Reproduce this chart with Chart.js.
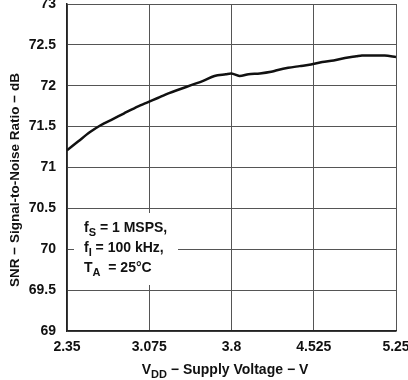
<!DOCTYPE html>
<html>
<head>
<meta charset="utf-8">
<script src="https://cdn.jsdelivr.net/npm/chart.js@4"></script>
<style>
  html, body { margin: 0; padding: 0; background: #fff; }
  #wrap { width: 408px; height: 380px; position: relative; }
</style>
</head>
<body>
<div id="wrap"><canvas id="snr-chart"></canvas></div>
<script>
// Supply voltage (V) and SNR (dB)
const voltage = [2.35, 2.45, 2.55, 2.65, 2.75, 2.85, 2.95, 3.05, 3.15, 3.25, 3.35, 3.45, 3.55, 3.65,
    3.75, 3.8, 3.87, 3.95, 4.05, 4.15, 4.2, 4.3, 4.4, 4.5, 4.6, 4.7, 4.8, 4.9, 4.95, 5.05, 5.15, 5.25];
const snr = [71.21, 71.32, 71.43, 71.52, 71.59, 71.66, 71.73, 71.79, 71.85, 71.91, 71.96, 72.01, 72.06, 72.12,
    72.14, 72.15, 72.12, 72.14, 72.15, 72.17, 72.19, 72.22, 72.24, 72.26, 72.29, 72.31, 72.34, 72.36, 72.37, 72.37, 72.37, 72.35];
const xTicks = [2.35, 3.075, 3.8, 4.525, 5.25];
const yMin = 69, yMax = 73, yStep = 0.5;

const FONT = 'Liberation Sans, Arial, sans-serif';

// draw text runs with optional subscripts, returns end x
function drawRuns(ctx, runs, x, y, size) {
    runs.forEach(r => {
        const s = r.sub ? Math.round(size * 0.75) : size;
        ctx.font = `bold ${s}px ${FONT}`;
        ctx.fillText(r.t, x, r.sub ? y + size * 0.3 : y);
        x += ctx.measureText(r.t).width;
    });
    return x;
}

const labelsPlugin = {
    id: 'labels',
    afterDraw(chart) {
        const ctx = chart.ctx;
        ctx.save();
        ctx.textBaseline = 'alphabetic';
        ctx.textAlign = 'left';

        // conditions box
        ctx.fillStyle = '#fff';
        ctx.fillRect(74, 213, 104, 72);
        ctx.fillStyle = '#111';
        drawRuns(ctx, [{ t: 'f' }, { t: 'S', sub: true }, { t: ' = 1 MSPS,' }], 84, 232, 14);
        drawRuns(ctx, [{ t: 'f' }, { t: 'I', sub: true }, { t: ' = 100 kHz,' }], 84, 252, 14);
        drawRuns(ctx, [{ t: 'T' }, { t: 'A', sub: true }, { t: '  = 25°C' }], 84, 272, 14);

        // x title
        const xRuns = [{ t: 'V' }, { t: 'DD', sub: true }, { t: ' \u2212 Supply Voltage \u2212 V' }];
        let w = 0;
        xRuns.forEach(r => {
            ctx.font = `bold ${r.sub ? 11 : 14}px ${FONT}`;
            w += ctx.measureText(r.t).width;
        });
        drawRuns(ctx, xRuns, 225 - w / 2, 374, 14);

        // y title
        ctx.translate(19, 180);
        ctx.rotate(-Math.PI / 2);
        ctx.textAlign = 'center';
        ctx.font = `bold 13.5px ${FONT}`;
        ctx.fillText('SNR \u2212 Signal-to-Noise Ratio \u2212 dB', 0, 0);
        ctx.restore();
    }
};

const ctx = document.getElementById('snr-chart').getContext('2d');
new Chart(ctx, {
    type: 'line',
    data: {
        datasets: [{
            data: voltage.map((v, i) => ({ x: v, y: snr[i] })),
            borderColor: '#111',
            borderWidth: 2.5,
            pointRadius: 0,
            tension: 0.3,
            fill: false
        }]
    },
    options: {
        responsive: true,
        maintainAspectRatio: false,
        animation: false,
        devicePixelRatio: 1,
        layout: { padding: { left: 0, top: 4, right: 12, bottom: 0 } },
        plugins: {
            legend: { display: false },
            tooltip: { enabled: false }
        },
        scales: {
            x: {
                type: 'linear',
                min: 2.35,
                max: 5.25,
                afterBuildTicks: scale => { scale.ticks = xTicks.map(v => ({ value: v })); },
                afterFit: scale => {
                    scale.height = 49;
                    scale.paddingLeft = 0;
                    scale.paddingRight = 0;
                },
                grid: { color: '#555', lineWidth: 1, drawTicks: false },
                border: { color: '#222', width: 1.5 },
                ticks: {
                    padding: 8,
                    color: '#111',
                    font: { family: FONT, size: 14, weight: 'bold' },
                    maxRotation: 0,
                    callback: v => String(v)
                }
            },
            y: {
                min: yMin,
                max: yMax,
                afterFit: scale => {
                    scale.width = 67;
                    scale.paddingTop = 0;
                    scale.paddingBottom = 0;
                },
                grid: { color: '#555', lineWidth: 1, drawTicks: false },
                border: { color: '#222', width: 1.5 },
                ticks: {
                    stepSize: yStep,
                    padding: 11,
                    color: '#111',
                    font: { family: FONT, size: 14, weight: 'bold' },
                    callback: v => String(Math.round(v * 10) / 10)
                }
            }
        }
    },
    plugins: [labelsPlugin]
});
</script>
</body>
</html>
